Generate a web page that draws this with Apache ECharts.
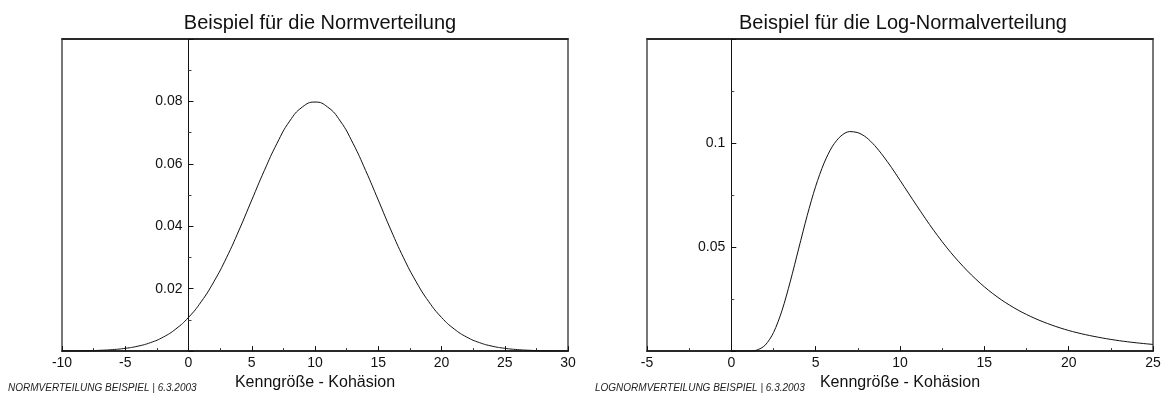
<!doctype html>
<html>
<head>
<meta charset="utf-8">
<script src="https://cdn.jsdelivr.net/npm/echarts@6/dist/echarts.min.js"></script>
<style>
  html, body { margin: 0; background: #fff; }
  #chart { width: 1164px; height: 396px; }
</style>
</head>
<body>
<div id="chart"></div>
<script>
// Normalverteilung (links)
const normX = [-10, -9, -8, -7, -6, -5, -4, -3, -2, -1, 0, 1, 2, 3, 4, 5, 6, 7, 8, 9, 10,
  11, 12, 13, 14, 15, 16, 17, 18, 19, 20, 21, 22, 23, 24, 25, 26, 27, 28, 29, 30];
const normY = [0.00003, 0.00006, 0.00012, 0.00025, 0.00048, 0.00089, 0.00158, 0.00272, 0.00448, 0.0071,
  0.0108, 0.0158, 0.0222, 0.0299, 0.0388, 0.0484, 0.0579, 0.0666, 0.0737, 0.0782,
  0.0798,
  0.0782, 0.0737, 0.0666, 0.0579, 0.0484, 0.0388, 0.0299, 0.0222, 0.0158, 0.0108,
  0.0071, 0.00448, 0.00272, 0.00158, 0.00089, 0.00048, 0.00025, 0.00012, 0.00006, 0.00003];

// Log-Normalverteilung (rechts)
const logX = [0, 0.5, 1, 1.5, 2, 2.5, 3, 3.5, 4, 4.5, 5, 5.5, 6, 6.5, 7, 7.5, 8, 8.5, 9, 9.5, 10,
  11, 12, 13, 14, 15, 16, 17, 18, 19, 20, 21, 22, 23, 24, 25];
const logY = [0, 0, 0.00002, 0.00045, 0.0028, 0.0089, 0.0194, 0.0336, 0.0495, 0.0652, 0.0792,
  0.0904, 0.0985, 0.1034, 0.1055, 0.1050, 0.1027, 0.0988, 0.0938, 0.0882, 0.0821,
  0.0698, 0.0580, 0.0475, 0.0385, 0.0309, 0.0247, 0.0197, 0.0157, 0.0125, 0.0099,
  0.0079, 0.0063, 0.0050, 0.0040, 0.0032];

const titles = ['Beispiel für die Normverteilung', 'Beispiel für die Log-Normalverteilung'];
const xName = 'Kenngröße - Kohäsion';
const notes = ['NORMVERTEILUNG BEISPIEL | 6.3.2003', 'LOGNORMVERTEILUNG BEISPIEL | 6.3.2003'];

const font = 'Liberation Sans, Arial, sans-serif';

function bottomAxis(grid, min, max) {
  return {
    type: 'value', gridIndex: grid, position: 'bottom', min: min, max: max, interval: 5,
    name: xName, nameLocation: 'middle', nameGap: 18,
    nameTextStyle: { color: '#111', fontSize: 16, fontFamily: font },
    axisLine: { onZero: false, lineStyle: { color: '#111', width: 1.5 } },
    axisTick: { inside: true, length: 5, lineStyle: { color: '#111' } },
    minorTick: { show: true, splitNumber: 2, length: 3, lineStyle: { color: '#333' } },
    axisLabel: { color: '#111', fontSize: 14, fontFamily: font, margin: 5 },
    splitLine: { show: false }
  };
}
function topAxis(grid, min, max) {
  return {
    type: 'value', gridIndex: grid, position: 'top', min: min, max: max,
    axisLine: { onZero: false, lineStyle: { color: '#111', width: 1.5 } },
    axisTick: { show: false }, axisLabel: { show: false }, splitLine: { show: false }
  };
}
// y axis sits on x = 0, shifted in from the grid edge
function yAxis(grid, max, interval, shift) {
  return {
    type: 'value', gridIndex: grid, min: 0, max: max, interval: interval, offset: -shift,
    axisLine: { show: true, onZero: false, lineStyle: { color: '#111', width: 1 } },
    axisTick: { show: true, inside: true, length: 5, lineStyle: { color: '#111' } },
    minorTick: { show: true, splitNumber: 2, length: 3, lineStyle: { color: '#444' } },
    axisLabel: {
      color: '#111', fontSize: 14, fontFamily: font, margin: 6,
      formatter: (v) => (v === 0 || Math.abs(v - max) < 1e-9) ? '' : String(+v.toFixed(3))
    },
    splitLine: { show: false }
  };
}

const chart = echarts.init(document.getElementById('chart'));
chart.setOption({
  animation: false,
  backgroundColor: '#fff',
  title: [
    { text: titles[0], left: 315, top: 8, textAlign: 'center',
      textStyle: { fontSize: 20, fontWeight: 'normal', color: '#111', fontFamily: font } },
    { text: titles[1], left: 898, top: 8, textAlign: 'center',
      textStyle: { fontSize: 20, fontWeight: 'normal', color: '#111', fontFamily: font } }
  ],
  grid: [
    { left: 62, right: 596, top: 39, bottom: 38, show: true, borderColor: '#777', borderWidth: 2 },
    { left: 647, right: 11, top: 39, bottom: 38, show: true, borderColor: '#777', borderWidth: 2 }
  ],
  xAxis: [bottomAxis(0, -10, 30), topAxis(0, -10, 30), bottomAxis(1, -5, 25), topAxis(1, -5, 25)],
  yAxis: [yAxis(0, 0.1, 0.02, 126.5), yAxis(1, 0.15, 0.05, 84.3)],
  series: [
    { type: 'line', xAxisIndex: 0, yAxisIndex: 0, smooth: true, showSymbol: false,
      lineStyle: { color: '#111', width: 1 },
      data: normX.map((x, i) => [x, normY[i]]) },
    { type: 'line', xAxisIndex: 2, yAxisIndex: 1, smooth: 0.3, showSymbol: false,
      lineStyle: { color: '#111', width: 1 },
      data: logX.map((x, i) => [x, logY[i]]) }
  ],
  graphic: [
    { type: 'text', left: 8, top: 383,
      style: { text: notes[0], fill: '#222', fontSize: 10, fontStyle: 'italic', fontFamily: font } },
    { type: 'text', left: 595, top: 383,
      style: { text: notes[1], fill: '#222', fontSize: 10, fontStyle: 'italic', fontFamily: font } }
  ]
});
</script>
</body>
</html>
